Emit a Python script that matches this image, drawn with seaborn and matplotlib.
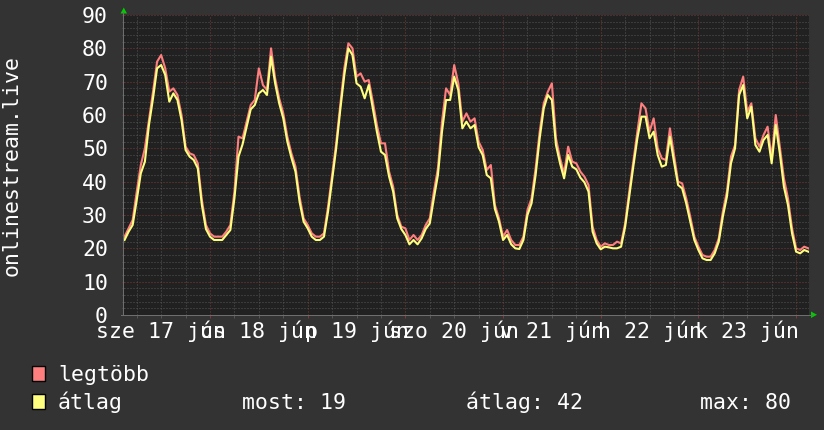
import pandas as pd
import matplotlib
matplotlib.use('Agg')
import matplotlib.pyplot as plt
import seaborn as sns
from matplotlib.ticker import MultipleLocator
from matplotlib.patches import Rectangle, Polygon
from matplotlib.lines import Line2D

# órás értékek, 17 jún 03:00-tól (órák 17 jún 00:00 óta)
hours = list(range(3, 172))

atlag = [
    # 17 jún
    22.5, 25, 27, 34.5, 42.5, 46, 57, 65, 74, 75, 72, 64, 66.5, 64.5, 58.5, 49.5, 47.5, 46.5, 44, 33, 25.8,
    # 18 jún
    23.5, 22.5, 22.5, 22.5, 24, 25.5, 35, 47.5, 51.2, 56.5, 61.7, 63, 66.5, 67.5, 66, 77.5, 69.5, 63.5, 59, 52, 47.2, 43, 34, 28,
    # 19 jún
    26, 23.5, 22.5, 22.5, 23.5, 31, 40.5, 50, 61.5, 72, 80, 78, 69.5, 68.5, 65, 69, 62, 55, 49, 48, 41.5, 37, 29, 25.8,
    # 20 jún
    24, 21.2, 22.5, 21.2, 23, 25.8, 27.5, 35, 42, 55, 64.5, 64.5, 71.5, 67.5, 56, 58, 56, 57, 50.3, 48, 42, 41, 31.8, 28,
    # 21 jún
    22.5, 24, 21.2, 20, 19.8, 22.5, 30, 33.5, 42, 53, 62, 66, 64.5, 51, 45.5, 41, 48, 44.5, 43.7, 41.2, 39.8, 37, 25, 21.5,
    # 22 jún
    19.7, 20.5, 20.3, 20, 20, 20.5, 26.5, 35.5, 44.5, 53, 59.5, 59.5, 53, 55, 48, 44.5, 45, 53.5, 46, 39, 38, 33.5, 28, 22.5,
    # 23 jún
    19.5, 17, 16.5, 16.5, 18.5, 22, 29.5, 35.5, 45.5, 50, 66, 69, 59, 62.5, 51, 49, 52.5, 54, 45.5, 57, 48.5, 38.5, 33, 24.5,
    19, 18.5, 19.5, 19,
]

legtobb = [
    23.5, 26, 28.5, 37, 45, 50, 58.5, 67, 76, 78, 74, 67, 68, 66, 60, 50.5, 48.5, 48, 45.5, 34.5, 27,
    24.5, 23.5, 23.5, 23.5, 25, 27, 37, 53.5, 53, 58, 63, 64.5, 74, 69, 67.5, 80, 71, 65, 60.5, 53.5, 48.5, 44.5, 35.5, 29,
    27, 24.5, 23.5, 23.5, 24.5, 32.5, 42, 51.5, 63, 74, 81.5, 80, 71.5, 72.5, 70, 70.5, 64, 57, 51.5, 51.5, 43, 38.5, 30, 26.5,
    26, 22.5, 24, 22.5, 24, 27, 29, 37, 44, 58, 68, 66, 75, 69.5, 58, 60.5, 58, 59, 52, 49.5, 43.5, 45, 33, 29,
    23.5, 25.5, 22.5, 21, 21, 23.5, 31.5, 35, 44, 55, 63.5, 67, 69.5, 53, 47, 42.5, 50.5, 46, 45.5, 43, 41.5, 39, 26.5, 22.5,
    20.5, 21.5, 21, 21, 22, 21.5, 27.5, 37, 46, 55, 63.5, 62, 55, 59, 50, 47, 46.5, 56, 48, 40, 39.5, 35, 29.5, 23.5,
    20.5, 18, 17.5, 17.5, 19.5, 23, 31, 37, 47.5, 51, 67.5, 71.5, 61, 63.5, 53, 50.5, 54, 56.5, 47, 60, 50.5, 41, 35, 26,
    20, 19.5, 20.5, 20,
]

day_labels = ['sze 17 jún', 'cs 18 jún', 'p 19 jún', 'szo 20 jún', 'v 21 jún', 'h 22 jún', 'k 23 jún']
stat_labels = ['most: 19', 'átlag: 42', 'max: 80']

df = pd.DataFrame({
    'ora': hours * 2,
    'ertek': legtobb + atlag,
    'sor': ['legtöbb'] * len(hours) + ['átlag'] * len(hours),
})

plt.rcParams['font.family'] = 'DejaVu Sans Mono'
FS = 15.5
W, H = 824, 430

def fx(x):
    return x / W

def fy(y):
    return 1 - y / H

fig = plt.figure(figsize=(W / 100, H / 100), dpi=100, facecolor='#333333')
ax = fig.add_axes([fx(124), fy(315), 685 / W, 300 / H], facecolor='#212121')

sns.lineplot(data=df, x='ora', y='ertek', hue='sor',
             palette={'legtöbb': '#ff7f7f', 'átlag': '#ffff7f'},
             linewidth=1.5, legend=False, ax=ax)

ax.set_xlim(2.87, 171.17)
ax.set_ylim(0, 90)
ax.xaxis.set_major_locator(MultipleLocator(24))
ax.xaxis.set_minor_locator(MultipleLocator(6))
ax.yaxis.set_major_locator(MultipleLocator(10))
ax.yaxis.set_minor_locator(MultipleLocator(2))
ax.set_axisbelow(True)
ax.grid(which='minor', color='#555555', linestyle=(0, (1, 2)), linewidth=0.72)
ax.grid(which='major', color='#7e3a3a', linestyle=(0, (1, 2)), linewidth=0.72)
ax.set_xlabel('')
ax.set_ylabel('')
for s in ax.spines.values():
    s.set_visible(False)

ax.tick_params(axis='x', which='both', labelbottom=False, direction='out', length=2.2, width=0.72)
ax.tick_params(axis='x', which='major', color='#7e3a3a')
ax.tick_params(axis='x', which='minor', color='#555555')
ax.tick_params(axis='y', which='both', direction='out', length=1.5, width=0.72)
ax.tick_params(axis='y', which='major', color='#7e3a3a', labelsize=FS, labelcolor='white', pad=10)
ax.tick_params(axis='y', which='minor', color='#555555')

for i, lab in enumerate(day_labels):
    ax.text(12 + 24 * i, -23 / 300, lab, transform=ax.get_xaxis_transform(),
            ha='center', va='baseline', fontsize=FS, color='white', clip_on=False)

fig.text(fx(12), fy(165), 'onlinestream.live', rotation=90, ha='center', va='center',
         fontsize=FS, color='white')

# tengelyvonalak és nyilak
fig.add_artist(Line2D([fx(123.5), fx(123.5)], [fy(315), fy(12)], color='#6e6e6e', lw=0.72))
fig.add_artist(Line2D([fx(121), fx(812)], [fy(314.5), fy(314.5)], color='#6e6e6e', lw=0.72))
fig.add_artist(Polygon([[fx(120.5), fy(13.5)], [fx(127), fy(13.5)], [fx(123.75), fy(7.5)]],
                       closed=True, color='#00cc00', lw=0))
fig.add_artist(Polygon([[fx(811), fy(311.5)], [fx(811), fy(318)], [fx(817), fy(314.75)]],
                       closed=True, color='#00cc00', lw=0))

# jelmagyarázat
fig.add_artist(Rectangle((fx(32), fy(381)), 13 / W, 15 / H, facecolor='#ff7f7f', edgecolor='black', lw=1))
fig.add_artist(Rectangle((fx(32), fy(409)), 13 / W, 15 / H, facecolor='#ffff7f', edgecolor='black', lw=1))
fig.text(fx(58), fy(381), 'legtöbb', ha='left', va='baseline', fontsize=FS, color='white')
fig.text(fx(58), fy(409), 'átlag', ha='left', va='baseline', fontsize=FS, color='white')
for xpos, lab in zip([242, 466, 700], stat_labels):
    fig.text(fx(xpos), fy(409), lab, ha='left', va='baseline', fontsize=FS, color='white')

fig.savefig('out.png', dpi=100, facecolor=fig.get_facecolor())
